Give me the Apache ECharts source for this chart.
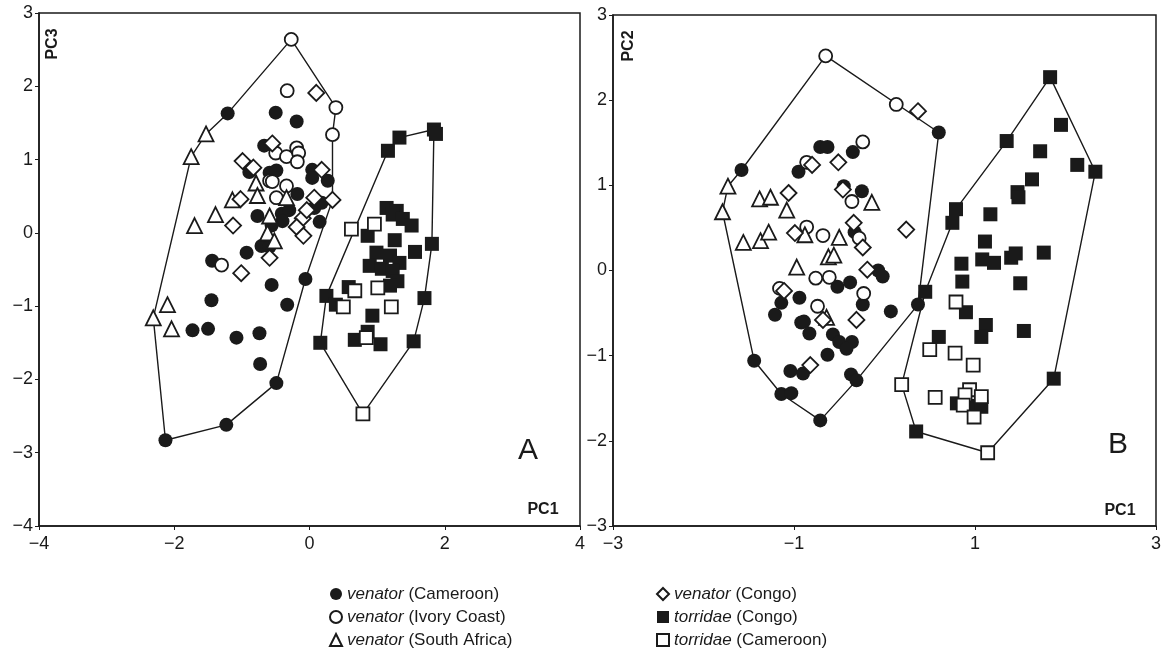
<!DOCTYPE html>
<html>
<head>
<meta charset="utf-8">
<script src="https://cdn.jsdelivr.net/npm/echarts@6/dist/echarts.min.js"></script>
<style>
  html, body { margin: 0; padding: 0; background: #fff; }
  #main { width: 1164px; height: 654px; }
</style>
</head>
<body>
<div id="main"></div>
<script>
// group names (legend order)
const groups = ['venator (Cameroon)', 'venator (Ivory Coast)', 'venator (South Africa)',
                'venator (Congo)', 'torridae (Congo)', 'torridae (Cameroon)'];

// axis ticks
const xTicksA = [-4, -2, 0, 2, 4];
const yTicksA = [-4, -3, -2, -1, 0, 1, 2, 3];
const xTicksB = [-3, -1, 1, 3];
const yTicksB = [-3, -2, -1, 0, 1, 2, 3];

// ---- panel A : PC1 x PC3 ----
const aVenCam = [[-1.21,1.63],[-0.50,1.64],[-0.19,1.52],[-0.67,1.19],[-0.89,0.83],[-0.59,0.82],[-0.49,0.85],
  [0.04,0.86],[0.04,0.75],[0.27,0.71],[-0.18,0.53],[0.18,0.41],[0.07,0.34],[-0.77,0.23],[-0.41,0.26],
  [-0.30,0.31],[-0.40,0.16],[-0.56,0.10],[0.15,0.15],[-0.71,-0.18],[-0.59,-0.19],[-0.93,-0.27],[-1.44,-0.38],
  [-0.56,-0.71],[-0.06,-0.63],[-1.45,-0.92],[-0.33,-0.98],[-1.73,-1.33],[-1.50,-1.31],[-1.08,-1.43],
  [-0.74,-1.37],[-0.73,-1.79],[-0.49,-2.05],[-1.23,-2.62],[-2.13,-2.83]];
const aVenIvo = [[-0.27,2.64],[-0.33,1.94],[0.39,1.71],[0.34,1.34],[-0.50,1.09],[-0.34,1.04],[-0.19,1.16],
  [-0.16,1.09],[-0.18,0.97],[-0.59,0.71],[-0.55,0.70],[-0.34,0.64],[-0.49,0.48],[-1.30,-0.44]];
const aVenSaf = [[-1.53,1.35],[-1.75,1.04],[-0.79,0.68],[-0.77,0.51],[-0.34,0.48],[-1.14,0.45],[-1.39,0.25],
  [-1.70,0.10],[-0.59,0.23],[-0.62,0.00],[-0.52,-0.11],[-2.10,-0.98],[-2.31,-1.16],[-2.04,-1.31]];
const aVenCon = [[0.10,1.91],[-0.55,1.22],[-0.99,0.98],[-0.83,0.89],[0.18,0.86],[-1.02,0.46],[0.07,0.48],
  [0.34,0.45],[-1.13,0.10],[-0.10,0.20],[-0.19,0.08],[-0.04,0.31],[-0.09,-0.04],[-0.59,-0.34],[-1.01,-0.55]];
const aTorCon = [[1.16,1.12],[1.33,1.30],[1.84,1.41],[1.87,1.35],[1.14,0.34],[1.29,0.30],[1.23,0.25],
  [1.38,0.19],[1.51,0.10],[0.86,-0.04],[1.26,-0.10],[1.81,-0.15],[1.56,-0.26],[0.99,-0.27],[1.19,-0.31],
  [1.33,-0.41],[0.89,-0.45],[1.07,-0.49],[1.23,-0.52],[1.30,-0.66],[1.19,-0.72],[0.58,-0.74],[0.25,-0.86],
  [0.39,-0.98],[1.70,-0.89],[0.93,-1.13],[0.86,-1.35],[0.67,-1.46],[1.05,-1.52],[0.16,-1.50],[1.54,-1.48]];
const aTorCam = [[0.62,0.05],[0.96,0.12],[1.01,-0.75],[0.67,-0.79],[0.50,-1.01],[1.21,-1.01],[0.84,-1.43],[0.79,-2.47]];
const aHullVen = [[-0.27,2.64],[0.39,1.71],[0.34,1.34],[0.34,0.45],[-0.06,-0.63],[-0.49,-2.05],[-1.23,-2.62],
  [-2.13,-2.83],[-2.31,-1.16],[-1.75,1.04],[-1.53,1.35],[-1.21,1.63],[-0.27,2.64]];
const aHullTor = [[1.16,1.12],[1.33,1.30],[1.84,1.41],[1.81,-0.15],[1.70,-0.89],[1.54,-1.48],[0.79,-2.47],
  [0.16,-1.50],[0.25,-0.86],[1.16,1.12]];

// ---- panel B : PC1 x PC2 ----
const bVenCam = [[-1.58,1.18],[-0.71,1.45],[-0.63,1.45],[-0.35,1.39],[-0.95,1.16],[-0.45,0.99],[-0.25,0.93],
  [0.60,1.62],[-0.33,0.45],[-0.07,0.00],[-0.02,-0.07],[-0.52,-0.19],[-0.38,-0.14],[-0.94,-0.32],[-1.14,-0.38],
  [-1.21,-0.52],[-0.24,-0.40],[-0.92,-0.61],[-0.89,-0.60],[-0.83,-0.74],[-0.57,-0.75],[-0.50,-0.84],
  [-0.36,-0.84],[-0.42,-0.92],[-0.63,-0.99],[-1.44,-1.06],[-1.04,-1.18],[-0.90,-1.21],[-0.37,-1.22],
  [-0.31,-1.29],[-1.14,-1.45],[-1.03,-1.44],[-0.71,-1.76],[0.37,-0.40],[0.07,-0.48]];
const bVenIvo = [[-0.65,2.52],[0.13,1.95],[-0.24,1.51],[-0.86,1.27],[-0.36,0.81],[-0.86,0.51],[-0.68,0.41],
  [-0.28,0.38],[-0.76,-0.09],[-0.61,-0.08],[-1.16,-0.21],[-0.23,-0.27],[-0.74,-0.42]];
const bVenSaf = [[-1.73,0.99],[-1.79,0.69],[-1.38,0.84],[-1.26,0.86],[-1.08,0.71],[-0.14,0.80],[-1.56,0.33],
  [-1.37,0.35],[-1.28,0.45],[-0.88,0.42],[-0.50,0.39],[-0.62,0.16],[-0.56,0.18],[-0.97,0.04],[-0.64,-0.55]];
const bVenCon = [[0.37,1.87],[-0.80,1.24],[-0.51,1.27],[-0.46,0.95],[-1.06,0.91],[-0.99,0.44],[-0.34,0.56],
  [-0.24,0.27],[0.24,0.48],[-0.19,0.01],[-1.11,-0.24],[-0.68,-0.58],[-0.31,-0.58],[-0.82,-1.11]];
const bTorCon = [[1.83,2.27],[1.95,1.71],[1.72,1.40],[2.13,1.24],[2.33,1.16],[1.35,1.52],[1.63,1.07],
  [1.47,0.92],[1.48,0.86],[0.79,0.72],[0.75,0.56],[1.17,0.66],[1.11,0.34],[1.08,0.13],[1.21,0.09],
  [1.40,0.15],[1.45,0.20],[1.76,0.21],[0.85,0.08],[0.86,-0.13],[1.50,-0.15],[0.45,-0.25],[0.90,-0.49],
  [1.12,-0.64],[1.07,-0.78],[1.54,-0.71],[0.60,-0.78],[0.80,-1.56],[1.01,-1.59],[1.07,-1.60],[0.35,-1.89],
  [1.87,-1.27]];
const bTorCam = [[0.79,-0.37],[0.50,-0.93],[0.78,-0.97],[0.98,-1.11],[0.19,-1.34],[0.56,-1.49],[0.94,-1.40],
  [0.89,-1.46],[1.07,-1.48],[0.87,-1.58],[0.99,-1.72],[1.14,-2.14]];
const bHullVen = [[-0.65,2.52],[0.60,1.62],[0.37,-0.40],[-0.31,-1.29],[-0.71,-1.76],[-1.14,-1.45],
  [-1.44,-1.06],[-1.79,0.69],[-1.73,0.99],[-1.58,1.18],[-0.65,2.52]];
const bHullTor = [[0.79,0.72],[1.35,1.52],[1.83,2.27],[2.33,1.16],[1.87,-1.27],[1.14,-2.14],[0.35,-1.89],
  [0.19,-1.34],[0.45,-0.25],[0.75,0.56],[0.79,0.72]];

const FONT = '"Liberation Sans", Arial, Helvetica, sans-serif';
const INK = '#1a1a1a';

// marker look per group: [symbol, filled, size]
const looks = [['circle', true, 14], ['circle', false, 13], ['triangle', false, 15],
               ['diamond', false, 16], ['rect', true, 14], ['rect', false, 13]];

const panelA = [aVenCam, aVenIvo, aVenSaf, aVenCon, aTorCon, aTorCam];
const panelB = [bVenCam, bVenIvo, bVenSaf, bVenCon, bTorCon, bTorCam];

function hull(data, gi) {
  return {
    type: 'line', xAxisIndex: gi, yAxisIndex: gi, data: data,
    symbol: 'none', silent: true, z: 1,
    lineStyle: { color: INK, width: 1.4 }
  };
}

function pts(gi, k, data) {
  const lk = looks[k];
  return {
    name: groups[k], type: 'scatter', xAxisIndex: gi, yAxisIndex: gi,
    data: data, symbol: lk[0], symbolSize: lk[2], z: 2 + k,
    itemStyle: lk[1]
      ? { color: INK, borderColor: INK, borderWidth: 0, opacity: 1 }
      : { color: '#fff', borderColor: INK, borderWidth: 1.8, opacity: 1 }
  };
}

const minus = v => String(v).replace('-', '\u2212');

function xAx(gi, min, max, step) {
  return {
    type: 'value', gridIndex: gi, min: min, max: max, interval: step,
    splitLine: { show: false },
    axisLine: { onZero: false, lineStyle: { color: INK, width: 1.5 } },
    axisTick: { length: 4, lineStyle: { color: INK } },
    axisLabel: { color: INK, fontSize: 18, fontFamily: FONT, margin: 9, formatter: minus }
  };
}
function yAx(gi, min, max) {
  return {
    type: 'value', gridIndex: gi, min: min, max: max, interval: 1,
    splitLine: { show: false },
    axisLine: { onZero: false, lineStyle: { color: INK, width: 1.5 } },
    axisTick: { length: 4, lineStyle: { color: INK } },
    axisLabel: { color: INK, fontSize: 18, fontFamily: FONT, margin: 6, formatter: minus }
  };
}

const series = [
  hull(aHullVen, 0), hull(aHullTor, 0),
  hull(bHullVen, 1), hull(bHullTor, 1)
];
panelA.forEach((d, k) => series.push(pts(0, k, d)));
panelB.forEach((d, k) => series.push(pts(1, k, d)));

const legendFmt = name => {
  const i = name.indexOf(' ');
  return '{i|' + name.slice(0, i) + '} ' + name.slice(i + 1);
};
function legend(left, names) {
  return {
    data: names, orient: 'vertical', left: left, top: 579, height: 100,
    itemWidth: 12, itemHeight: 12, itemGap: 3, selectedMode: false,
    formatter: legendFmt,
    textStyle: {
      color: INK, fontSize: 17, fontFamily: FONT, lineHeight: 20,
      rich: { i: { fontStyle: 'italic', fontSize: 17, fontFamily: FONT, color: INK, lineHeight: 20 } }
    }
  };
}

const chart = echarts.init(document.getElementById('main'), null, { renderer: 'canvas' });
chart.setOption({
  backgroundColor: '#fff',
  animation: false,
  grid: [
    { left: 39, top: 13, width: 541, height: 513, show: true, borderColor: INK, borderWidth: 1.5, backgroundColor: 'transparent' },
    { left: 613, top: 15, width: 544, height: 511, show: true, borderColor: INK, borderWidth: 1.5, backgroundColor: 'transparent' }
  ],
  xAxis: [xAx(0, xTicksA[0], xTicksA[xTicksA.length - 1], 2), xAx(1, xTicksB[0], xTicksB[xTicksB.length - 1], 2)],
  yAxis: [yAx(0, yTicksA[0], yTicksA[yTicksA.length - 1]), yAx(1, yTicksB[0], yTicksB[yTicksB.length - 1])],
  legend: [legend(324, groups.slice(0, 3)), legend(651, groups.slice(3))],
  graphic: [
    { type: 'text', x: 53, y: 44, rotation: Math.PI / 2, style: { text: 'PC3', font: 'bold 16px ' + FONT, fill: INK, textAlign: 'center', textVerticalAlign: 'middle' } },
    { type: 'text', x: 543, y: 510, style: { text: 'PC1', font: 'bold 16px ' + FONT, fill: INK, textAlign: 'center', textVerticalAlign: 'middle' } },
    { type: 'text', x: 528, y: 451, style: { text: 'A', font: '30px ' + FONT, fill: INK, textAlign: 'center', textVerticalAlign: 'middle' } },
    { type: 'text', x: 629, y: 46, rotation: Math.PI / 2, style: { text: 'PC2', font: 'bold 16px ' + FONT, fill: INK, textAlign: 'center', textVerticalAlign: 'middle' } },
    { type: 'text', x: 1120, y: 511, style: { text: 'PC1', font: 'bold 16px ' + FONT, fill: INK, textAlign: 'center', textVerticalAlign: 'middle' } },
    { type: 'text', x: 1118, y: 445, style: { text: 'B', font: '30px ' + FONT, fill: INK, textAlign: 'center', textVerticalAlign: 'middle' } }
  ],
  series: series
});
</script>
</body>
</html>
